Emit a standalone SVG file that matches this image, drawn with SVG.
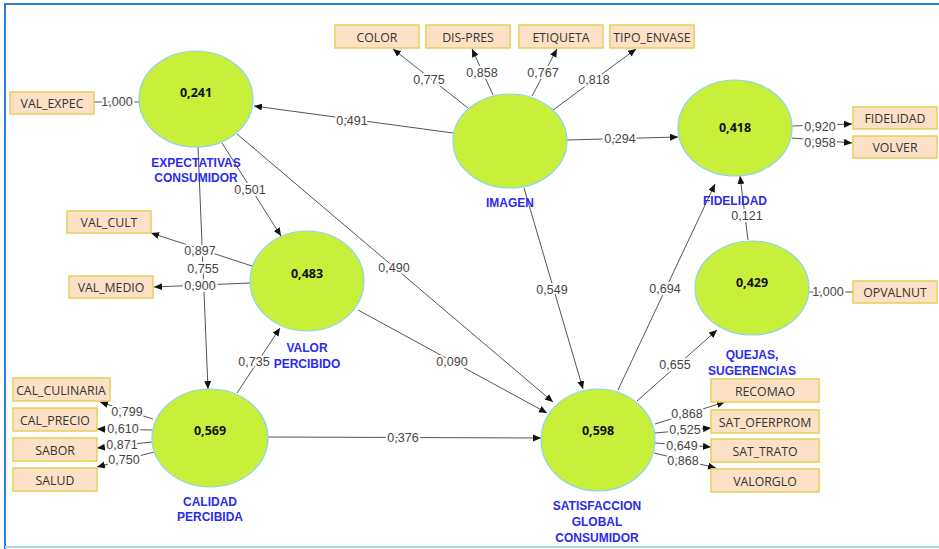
<svg xmlns="http://www.w3.org/2000/svg" width="939" height="549" viewBox="0 0 939 549">
<defs>
<marker id="ah" markerUnits="userSpaceOnUse" markerWidth="9" markerHeight="8" refX="8" refY="3.5" orient="auto">
<path d="M0,0 L8,3.5 L0,7 z" fill="#111"/>
</marker>
<style>
.frame{fill:#fff;stroke:#2b7fd6;stroke-width:2}
.lv{fill:#c8f03a;stroke:#8fd3ee;stroke-width:1.2}
.val{font-family:"Open Sans","Noto Sans",sans-serif;font-size:12.5px;font-weight:bold;fill:#111;text-anchor:middle;dominant-baseline:central}
.name{font-family:"Liberation Sans",Arial,sans-serif;font-size:12px;font-weight:bold;fill:#2b2bf0;text-anchor:middle;dominant-baseline:central}
.ind rect{fill:#fde1c6;stroke:#e3cf5a;stroke-width:1.5}
.ind text{font-family:"Open Sans","Noto Sans",sans-serif;font-size:12.3px;fill:#333;text-anchor:middle;dominant-baseline:central}
.c line{stroke:#555;stroke-width:1}
.c line.a{marker-end:url(#ah)}
.lbl{font-family:"Liberation Sans",Arial,sans-serif;font-size:12.5px;fill:#444;text-anchor:middle;dominant-baseline:central;stroke:#fff;stroke-width:4;paint-order:stroke;stroke-linejoin:round}
</style>
</defs>
<rect x="0" y="0" width="939" height="549" fill="#fff"/>
<rect class="frame" x="5" y="4" width="940" height="560"/>
<line x1="5" y1="547" x2="939" y2="547" stroke="#a9d5f0" stroke-width="2"/>

<g id="connectors" class="c">
<line x1="140" y1="102" x2="94" y2="102"/>
<line class="a" x1="468" y1="108" x2="393" y2="49"/>
<line class="a" x1="493" y1="95" x2="472" y2="49"/>
<line class="a" x1="532" y1="96" x2="557" y2="49"/>
<line class="a" x1="553" y1="110" x2="636" y2="49"/>
<line class="a" x1="453" y1="133" x2="254" y2="106"/>
<line class="a" x1="567" y1="140" x2="678" y2="137"/>
<line class="a" x1="792" y1="126" x2="852" y2="124"/>
<line class="a" x1="792" y1="138" x2="852" y2="143"/>
<line class="a" x1="748" y1="240" x2="740" y2="176"/>
<line class="a" x1="618" y1="390" x2="715" y2="184"/>
<line x1="809" y1="292" x2="853" y2="292"/>
<line class="a" x1="637" y1="401" x2="717" y2="330"/>
<line class="a" x1="524" y1="188" x2="583" y2="389"/>
<line class="a" x1="237" y1="134" x2="553" y2="402"/>
<line class="a" x1="358" y1="310" x2="547" y2="413"/>
<line class="a" x1="268" y1="437" x2="541" y2="438"/>
<line class="a" x1="222" y1="143" x2="281" y2="236"/>
<line class="a" x1="198" y1="147" x2="208" y2="389"/>
<line class="a" x1="252" y1="266" x2="151" y2="233"/>
<line class="a" x1="250" y1="283" x2="154" y2="287"/>
<line class="a" x1="237" y1="393" x2="280" y2="328"/>
<line class="a" x1="153" y1="419" x2="100" y2="402"/>
<line class="a" x1="152" y1="430" x2="97" y2="429"/>
<line class="a" x1="152" y1="442" x2="97" y2="448"/>
<line class="a" x1="154" y1="452" x2="97" y2="467"/>
<line class="a" x1="655" y1="424" x2="725" y2="402"/>
<line class="a" x1="655" y1="433" x2="711" y2="428"/>
<line class="a" x1="655" y1="443" x2="711" y2="447"/>
<line class="a" x1="654" y1="453" x2="716" y2="468"/>
<text class="lbl" x="117" y="102">1,000</text>
<text class="lbl" x="429" y="80">0,775</text>
<text class="lbl" x="482" y="73">0,858</text>
<text class="lbl" x="543" y="73">0,767</text>
<text class="lbl" x="594" y="80">0,818</text>
<text class="lbl" x="352" y="121">0,491</text>
<text class="lbl" x="620" y="139">0,294</text>
<text class="lbl" x="820" y="127">0,920</text>
<text class="lbl" x="820" y="143">0,958</text>
<text class="lbl" x="747" y="216">0,121</text>
<text class="lbl" x="665" y="289">0,694</text>
<text class="lbl" x="828" y="292">1,000</text>
<text class="lbl" x="675" y="365">0,655</text>
<text class="lbl" x="552" y="290">0,549</text>
<text class="lbl" x="394" y="268">0,490</text>
<text class="lbl" x="452" y="362">0,090</text>
<text class="lbl" x="403" y="438">0,376</text>
<text class="lbl" x="250" y="190">0,501</text>
<text class="lbl" x="200" y="251">0,897</text>
<text class="lbl" x="203" y="269">0,755</text>
<text class="lbl" x="200" y="286">0,900</text>
<text class="lbl" x="254" y="362">0,735</text>
<text class="lbl" x="127" y="412">0,799</text>
<text class="lbl" x="123" y="429">0,610</text>
<text class="lbl" x="122" y="445">0,871</text>
<text class="lbl" x="124" y="460">0,750</text>
<text class="lbl" x="687" y="414">0,868</text>
<text class="lbl" x="685" y="430">0,525</text>
<text class="lbl" x="682" y="446">0,649</text>
<text class="lbl" x="683" y="461">0,868</text>
</g>

<g id="expectativas">
<ellipse class="lv" cx="196" cy="99" rx="57" ry="48"/>
<text class="val" x="196" y="92">0,241</text>
<text class="name" x="196" y="163">EXPECTATIVAS</text>
<text class="name" x="196" y="178">CONSUMIDOR</text>
</g>
<g id="imagen">
<ellipse class="lv" cx="510" cy="141" rx="57" ry="47"/>
<text class="name" x="510" y="203">IMAGEN</text>
</g>
<g id="fidelidad">
<ellipse class="lv" cx="735" cy="128" rx="57" ry="48"/>
<text class="val" x="735" y="127">0,418</text>
<text class="name" x="735" y="201">FIDELIDAD</text>
</g>
<g id="quejas">
<ellipse class="lv" cx="752" cy="288" rx="57" ry="47"/>
<text class="val" x="752" y="282">0,429</text>
<text class="name" x="752" y="355">QUEJAS,</text>
<text class="name" x="752" y="371">SUGERENCIAS</text>
</g>
<g id="valor">
<ellipse class="lv" cx="307" cy="281" rx="57" ry="50"/>
<text class="val" x="307" y="273">0,483</text>
<text class="name" x="307" y="348">VALOR</text>
<text class="name" x="307" y="364">PERCIBIDO</text>
</g>
<g id="calidad">
<ellipse class="lv" cx="210" cy="438" rx="58" ry="49"/>
<text class="val" x="210" y="430">0,569</text>
<text class="name" x="210" y="502">CALIDAD</text>
<text class="name" x="210" y="517">PERCIBIDA</text>
</g>
<g id="satisfaccion">
<ellipse class="lv" cx="598" cy="440" rx="57" ry="51"/>
<text class="val" x="598" y="430">0,598</text>
<text class="name" x="597" y="506">SATISFACCION</text>
<text class="name" x="597" y="522">GLOBAL</text>
<text class="name" x="597" y="538">CONSUMIDOR</text>
</g>

<g id="ind_val_expec" class="ind"><rect x="10" y="92" width="84" height="22"/><text x="52" y="103">VAL_EXPEC</text></g>
<g id="ind_color" class="ind"><rect x="335" y="25" width="84" height="23"/><text x="377" y="37">COLOR</text></g>
<g id="ind_dis_pres" class="ind"><rect x="426" y="25" width="84" height="23"/><text x="468" y="37">DIS-PRES</text></g>
<g id="ind_etiqueta" class="ind"><rect x="519" y="25" width="84" height="23"/><text x="561" y="37">ETIQUETA</text></g>
<g id="ind_tipo_envase" class="ind"><rect x="610" y="25" width="84" height="23"/><text x="652" y="37">TIPO_ENVASE</text></g>
<g id="ind_fidelidad" class="ind"><rect x="853" y="107" width="84" height="22"/><text x="895" y="118">FIDELIDAD</text></g>
<g id="ind_volver" class="ind"><rect x="853" y="136" width="84" height="22"/><text x="895" y="147">VOLVER</text></g>
<g id="ind_opvalnut" class="ind"><rect x="853" y="281" width="84" height="22"/><text x="895" y="292">OPVALNUT</text></g>
<g id="ind_val_cult" class="ind"><rect x="67" y="211" width="84" height="22"/><text x="109" y="222">VAL_CULT</text></g>
<g id="ind_val_medio" class="ind"><rect x="69" y="276" width="84" height="22"/><text x="111" y="287">VAL_MEDIO</text></g>
<g id="ind_cal_culinaria" class="ind"><rect x="13" y="378" width="97" height="23"/><text x="61" y="390">CAL_CULINARIA</text></g>
<g id="ind_cal_precio" class="ind"><rect x="13" y="408" width="84" height="23"/><text x="55" y="420">CAL_PRECIO</text></g>
<g id="ind_sabor" class="ind"><rect x="13" y="438" width="84" height="23"/><text x="55" y="450">SABOR</text></g>
<g id="ind_salud" class="ind"><rect x="13" y="468" width="84" height="23"/><text x="55" y="480">SALUD</text></g>
<g id="ind_recomao" class="ind"><rect x="711" y="379" width="108" height="23"/><text x="765" y="391">RECOMAO</text></g>
<g id="ind_sat_oferprom" class="ind"><rect x="711" y="410" width="108" height="23"/><text x="765" y="422">SAT_OFERPROM</text></g>
<g id="ind_sat_trato" class="ind"><rect x="711" y="439" width="108" height="23"/><text x="765" y="451">SAT_TRATO</text></g>
<g id="ind_valorglo" class="ind"><rect x="711" y="469" width="108" height="23"/><text x="765" y="481">VALORGLO</text></g>
</svg>
